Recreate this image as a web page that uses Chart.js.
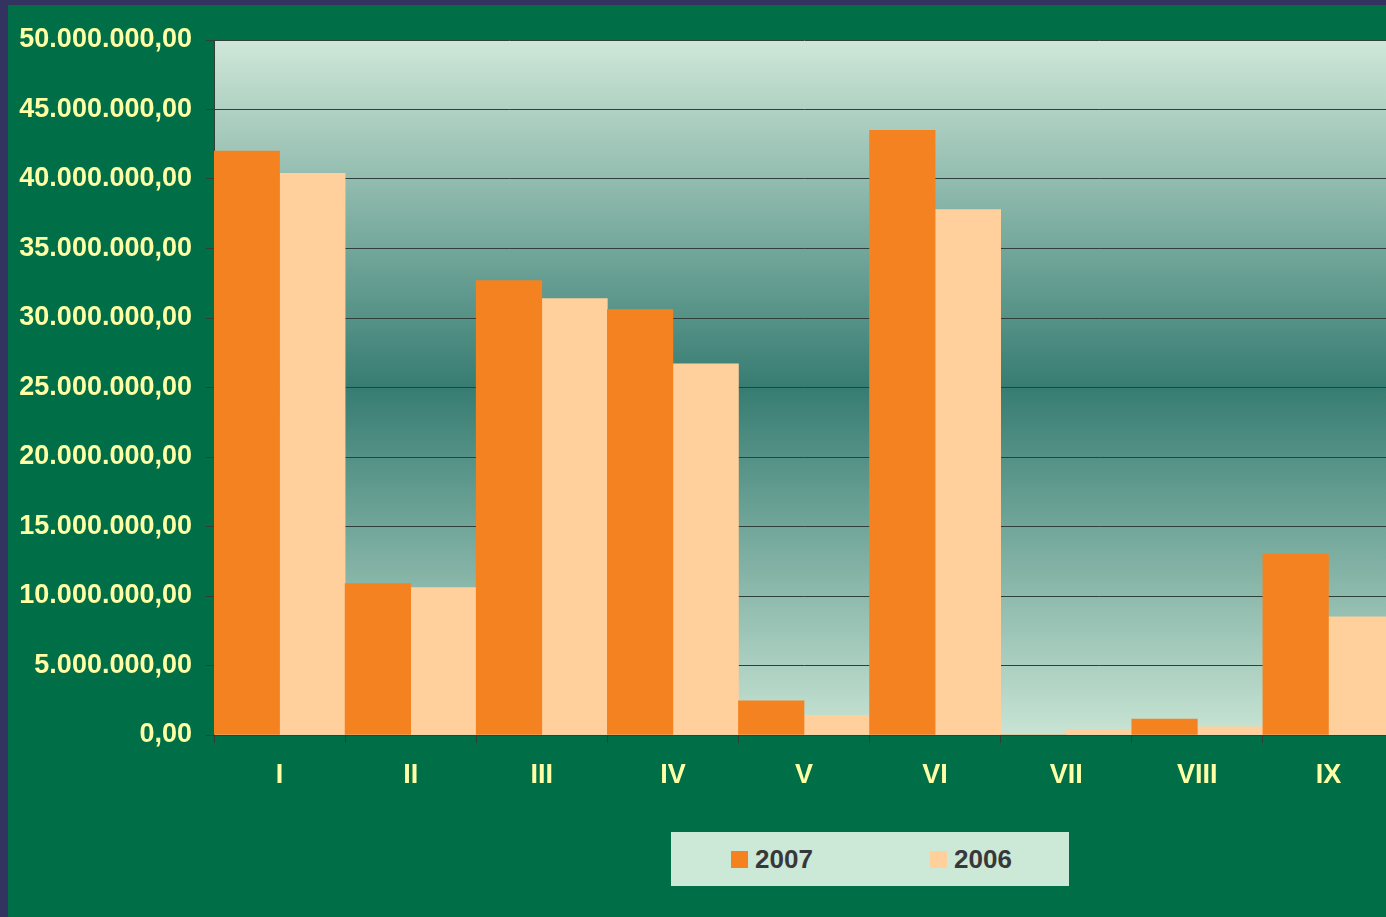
<!DOCTYPE html>
<html>
<head>
<meta charset="utf-8">
<script src="https://cdn.jsdelivr.net/npm/chart.js@4/dist/chart.umd.min.js"></script>
<style>
  html, body { margin: 0; padding: 0; overflow: hidden; background: #33335f; width: 1386px; height: 917px; }
  #marco { position: absolute; left: 8px; top: 5px; width: 1386px; height: 912px; background: #006f47; }
  #grafica { display: block; }
  #leyenda { position: absolute; left: 671px; top: 832px; width: 398px; height: 54px; background: #cce8d6;
    font-family: "Liberation Sans", Arial, sans-serif; font-weight: bold; font-size: 26px; color: #38383a; }
  .item { position: absolute; top: 0; height: 54px; line-height: 54px; }
  .cuadro { position: absolute; top: 19px; width: 17px; height: 17px; }
  .texto { position: absolute; left: 24px; top: 0; }
</style>
</head>
<body>
<div id="marco"><canvas id="grafica"></canvas></div>
<div id="leyenda"></div>
<script>
// datos
const meses = ["I", "II", "III", "IV", "V", "VI", "VII", "VIII", "IX"]
const valores2007 = [42000000, 10900000, 32700000, 30600000, 2450000, 43500000, 0, 1150000, 13000000]
const valores2006 = [40400000, 10600000, 31400000, 26700000, 1400000, 37800000, 350000, 580000, 8500000]
const series = ["2007", "2006"]
const colores = ["#f58220", "#ffcf9c"]

const fuente = "'Liberation Sans', Arial, sans-serif"
const amarillo = "#ffffa6"
const lineas = "#2f3f3a"

function formato(v) {
    let entero = Math.round(v).toString().replace(/\B(?=(\d{3})+(?!\d))/g, ".")
    return entero + ",00"
}

// fondo con degradado del area de la grafica
const fondo = {
    id: "fondo",
    beforeDraw(chart) {
        const { ctx, chartArea: a } = chart
        const g = ctx.createLinearGradient(0, a.top, 0, a.bottom)
        g.addColorStop(0, "#cfe7d8")
        g.addColorStop(0.5, "#377c72")
        g.addColorStop(1, "#c8e4d4")
        ctx.save()
        ctx.fillStyle = g
        ctx.fillRect(a.left, a.top, a.right - a.left, a.bottom - a.top)
        ctx.restore()
    }
}

const grafDOM = document.querySelector("#grafica")
grafDOM.width = 1386
grafDOM.height = 912

const miGraf = new Chart(grafDOM, {
    type: "bar",
    data: {
        labels: meses,
        datasets: [
            { label: series[0], data: valores2007, backgroundColor: colores[0], categoryPercentage: 1, barPercentage: 1 },
            { label: series[1], data: valores2006, backgroundColor: colores[1], categoryPercentage: 1, barPercentage: 1 }
        ]
    },
    options: {
        responsive: false,
        animation: false,
        layout: { padding: { top: 35, right: 0, left: 0, bottom: 0 } },
        plugins: { legend: { display: false }, tooltip: { enabled: false } },
        scales: {
            x: {
                grid: { offset: true, drawOnChartArea: false, color: lineas, tickLength: 8 },
                border: { color: lineas },
                ticks: { color: amarillo, font: { family: fuente, size: 27, weight: "bold" }, padding: 16 },
                afterFit(s) { s.height = 182 }
            },
            y: {
                min: 0,
                max: 50000000,
                grid: { color: lineas, tickLength: 8 },
                border: { color: lineas },
                ticks: {
                    stepSize: 5000000,
                    color: amarillo,
                    font: { family: fuente, size: 27, weight: "bold" },
                    padding: 14,
                    callback: (v) => formato(v)
                },
                afterFit(s) { s.width = 206 }
            }
        }
    },
    plugins: [fondo]
})

// leyenda
const leyenda = document.querySelector("#leyenda")
const posiciones = [60, 259]
series.forEach((s, i) => {
    leyenda.innerHTML += `<div class="item" style="left:${posiciones[i]}px"><div class="cuadro" style="background:${colores[i]}"></div><span class="texto">${s}</span></div>`
})
</script>
</body>
</html>
